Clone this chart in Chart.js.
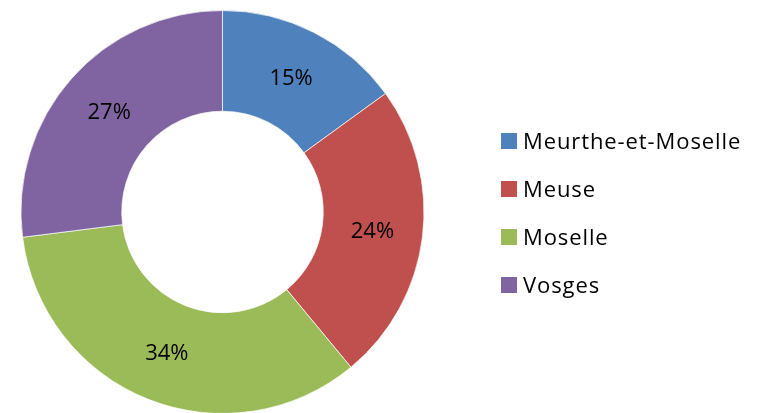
<!DOCTYPE html>
<html>
<head>
<meta charset="utf-8">
<script src="https://cdn.jsdelivr.net/npm/chart.js@4.4.1/dist/chart.umd.min.js"></script>
<style>
  html, body { margin: 0; padding: 0; background: #fff; overflow: hidden; }
  #wrap { position: relative; width: 759px; height: 413px; overflow: hidden; }
  #legend { position: absolute; left: 501px; top: 133px; font-family: "Open Sans", sans-serif; font-size: 22px; letter-spacing: 0.9px; color: #000; }
  .item { position: absolute; left: 0; height: 16px; white-space: nowrap; }
  .box { position: absolute; left: 0; top: 0; width: 16px; height: 16px; }
  .txt { position: absolute; left: 22px; top: 7px; transform: translateY(-50%); line-height: 1; }
</style>
</head>
<body>
<div id="wrap">
  <canvas id="donut" width="759" height="424"></canvas>
  <div id="legend"></div>
</div>
<script>
var departements = ['Meurthe-et-Moselle', 'Meuse', 'Moselle', 'Vosges'];
var parts = [15, 24, 34, 27];
var colours = ['#4F81BD', '#C0504D', '#9BBB59', '#8064A2'];

var legend = document.querySelector('#legend');
departements.forEach((name, i) => {
    var item = document.createElement('div');
    item.className = 'item';
    item.style.top = (i * 48) + 'px';
    item.innerHTML = '<div class="box" style="background:' + colours[i] + '"></div><span class="txt">' + name + '</span>';
    legend.appendChild(item);
});

// percent in the middle of each ring slice
var sliceLabels = {
    id: 'sliceLabels',
    afterDatasetsDraw(chart) {
        var ctx = chart.ctx;
        var meta = chart.getDatasetMeta(0);
        var total = parts.reduce((a, b) => a + b, 0);
        ctx.save();
        ctx.font = '22px "Open Sans", sans-serif';
        ctx.fillStyle = '#000';
        ctx.textAlign = 'center';
        ctx.textBaseline = 'middle';
        meta.data.forEach((arc, i) => {
            var pos = arc.tooltipPosition();
            ctx.fillText(Math.round(parts[i] / total * 100) + '%', pos.x, pos.y + 1);
        });
        ctx.restore();
    }
};

var ctx = document.getElementById('donut');
new Chart(ctx, {
    type: 'doughnut',
    data: {
        labels: departements,
        datasets: [{
            data: parts,
            backgroundColor: colours,
            borderColor: 'rgba(255,255,255,0.7)',
            borderWidth: 1
        }]
    },
    options: {
        responsive: false,
        animation: false,
        devicePixelRatio: 1,
        cutout: '50%',
        layout: {
            padding: { top: 9.5, left: 20.5, right: 334.5, bottom: 9.5 }
        },
        plugins: {
            legend: { display: false },
            tooltip: { enabled: false }
        }
    },
    plugins: [sliceLabels]
});
</script>
</body>
</html>
